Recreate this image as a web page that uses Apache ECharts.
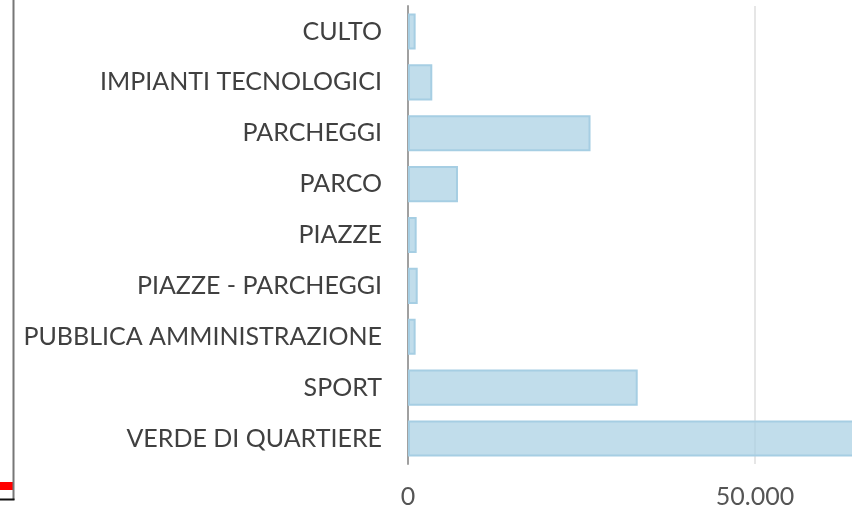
<!DOCTYPE html>
<html>
<head>
<meta charset="utf-8">
<script src="https://cdn.jsdelivr.net/npm/echarts@6/dist/echarts.min.js"></script>
<style>
  html, body { margin: 0; padding: 0; background: #fff; overflow: hidden; }
  #chart { width: 852px; height: 515px; }
</style>
</head>
<body>
<div id="chart"></div>
<script>
// Categories of public works, top to bottom
const categories = [
  'CULTO',
  'IMPIANTI TECNOLOGICI',
  'PARCHEGGI',
  'PARCO',
  'PIAZZE',
  'PIAZZE - PARCHEGGI',
  'PUBBLICA AMMINISTRAZIONE',
  'SPORT',
  'VERDE DI QUARTIERE'
];
// Amount per category
const values = [1100, 3500, 26300, 7200, 1250, 1400, 1100, 33100, 71000];
// Tick values shown on the value axis
const tickValues = [0, 50000, 100000];

const chart = echarts.init(document.getElementById('chart'), null, { renderer: 'canvas' });

function fmt(v) {
  return String(v).replace(/\B(?=(\d{3})+(?!\d))/g, '.');
}

const FONT = 'Lato';

chart.setOption({
  animation: false,
  backgroundColor: '#ffffff',
  textStyle: { fontFamily: FONT },
  // the plot runs on past the right edge of the page
  grid: { left: 408, width: 694, top: 6, bottom: 51, containLabel: false, outerBoundsMode: 'none' },
  xAxis: {
    type: 'value',
    min: tickValues[0],
    max: tickValues[tickValues.length - 1],
    interval: tickValues[1] - tickValues[0],
    axisLine: { show: false },
    axisTick: { show: false },
    splitLine: { show: true, lineStyle: { color: '#e6e6e6', width: 2 } },
    axisLabel: {
      formatter: fmt,
      color: '#555555',
      fontSize: 25,
      fontFamily: FONT,
      margin: 20
    }
  },
  yAxis: {
    type: 'category',
    data: categories,
    inverse: true,
    axisLine: { show: true, lineStyle: { color: '#a0a0a0', width: 2 } },
    axisTick: { show: false },
    splitLine: { show: false },
    axisLabel: {
      color: '#404040',
      fontSize: 25,
      fontFamily: FONT,
      margin: 26
    }
  },
  series: [{
    type: 'bar',
    data: values,
    barCategoryGap: '29%',
    itemStyle: {
      color: 'rgba(166,206,227,0.7)',
      borderColor: '#a6cee3',
      borderWidth: 2
    }
  }],
  graphic: [
    // edge of the neighbouring panel on the left
    { type: 'rect', shape: { x: 0, y: 482, width: 13, height: 8 }, style: { fill: '#ff0000' } },
    { type: 'rect', shape: { x: 12.5, y: 0, width: 2, height: 500 }, style: { fill: '#777777' } },
    { type: 'rect', shape: { x: 0, y: 498.5, width: 14.5, height: 2 }, style: { fill: '#111111' } }
  ]
});
</script>
</body>
</html>
